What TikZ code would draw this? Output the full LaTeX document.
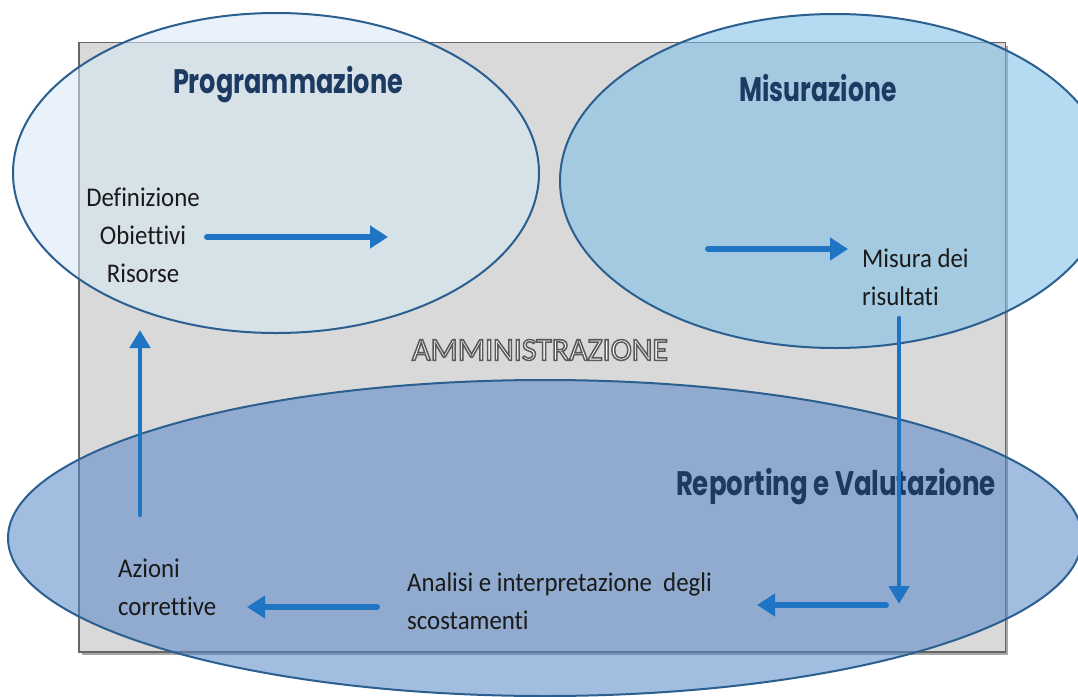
\documentclass[tikz,border=0pt]{standalone}
\usepackage{fontspec}
\usepackage{graphicx}
\usetikzlibrary{arrows.meta,calc}
\newfontfamily\titlefont{Poppins}
\newfontfamily\bodyfont{Carlito}[Ligatures=NoCommon]
\definecolor{rectgray}{HTML}{D9D9D9}
\definecolor{rectline}{HTML}{666666}
\definecolor{pfill}{RGB}{215,232,246}
\definecolor{mfill}{RGB}{120,190,230}
\definecolor{rfill}{RGB}{85,135,200}
\definecolor{ellline}{HTML}{2A5F8F}
\definecolor{arrowblue}{HTML}{1F74C3}
\definecolor{titlenavy}{HTML}{1D3A63}
\definecolor{bodytext}{HTML}{1A1A1A}
\newcommand{\outlinetxt}[1]{%
  \special{pdf:literal direct q 0.35 0.35 0.35 RG 1 1 1 rg 2 Tr 1.5 w}#1\special{pdf:literal direct 0 Tr Q}}
\tikzset{
  ell/.style={draw=ellline, line width=2pt, fill opacity=0.55, draw opacity=1},
  flow/.style={draw=arrowblue, line width=6pt, line cap=round, -{Triangle[length=18pt,width=22pt]}},
  flowthin/.style={draw=arrowblue, line width=4.5pt, line cap=round, -{Triangle[length=18pt,width=20pt]}},
  title/.style={text=titlenavy, inner sep=0pt, font=\titlefont\bfseries\fontsize{34}{40}\selectfont},
  body/.style={text=bodytext, inner sep=0pt, xscale=0.92, transform shape, font=\bodyfont\fontsize{27}{38}\selectfont},
}
\begin{document}
\begin{tikzpicture}[x=1pt,y=-1pt]
\useasboundingbox (0,0) rectangle (1078,696);
\fill[white] (0,0) rectangle (1078,696);
% administration box
\fill[black!35] (82,46) rectangle (1008,655);
\draw[rectline, line width=1.5pt, fill=rectgray] (79,42.5) rectangle (1005.5,652);
% ellipses
\path[ell, fill=pfill] (276,173) ellipse [x radius=263pt, y radius=160pt];
\path[ell, fill=mfill] (835,181) ellipse [x radius=275pt, y radius=167pt];
\path[ell, fill=rfill] (545,538) ellipse [x radius=537pt, y radius=158pt];
% titles
\node[title] (tprog) at (288,85) {\resizebox{230pt}{\height}{Programmazione}};
\node[title] (tmis) at (818,88) {\resizebox{157pt}{\height}{Misurazione}};
\node[title] (trep) at (836,487) {\resizebox{320pt}{\height}{Reporting e Valutazione}};
% AMMINISTRAZIONE outline text
\node[inner sep=0pt, font=\bodyfont\fontsize{32}{36}\selectfont] (amm) at (540,350) {\resizebox{256pt}{\height}{\outlinetxt{AMMINISTRAZIONE}}};
% body texts
\node[body, align=center] (def) at (143,235) {Definizione\\Obiettivi\\Risorse};
\node[body, align=left, anchor=west] (mis) at (862,277) {Misura dei\\risultati};
\node[body, align=left, anchor=west] (azi) at (118,587) {Azioni\\correttive};
\node[body, align=left, anchor=west] (ana) at (407,601) {Analisi e interpretazione~ degli\\scostamenti};
% arrow coordinates
\coordinate (a1s) at (207,237); \coordinate (a1e) at (388,237);
\coordinate (a2s) at (708,249); \coordinate (a2e) at (848,249);
\coordinate (a3s) at (899,318); \coordinate (a3e) at (899,604);
\coordinate (a4s) at (886,605); \coordinate (a4e) at (757,605);
\coordinate (a5s) at (377,607); \coordinate (a5e) at (247,607);
\coordinate (a6s) at (140,515); \coordinate (a6e) at (140,330);
\draw[flow] (a1s) -- (a1e);
\draw[flow] (a2s) -- (a2e);
\draw[flowthin] (a3s) -- (a3e);
\draw[flow] (a4s) -- (a4e);
\draw[flow] (a5s) -- (a5e);
\draw[flowthin] (a6s) -- (a6e);
\end{tikzpicture}
\end{document}
